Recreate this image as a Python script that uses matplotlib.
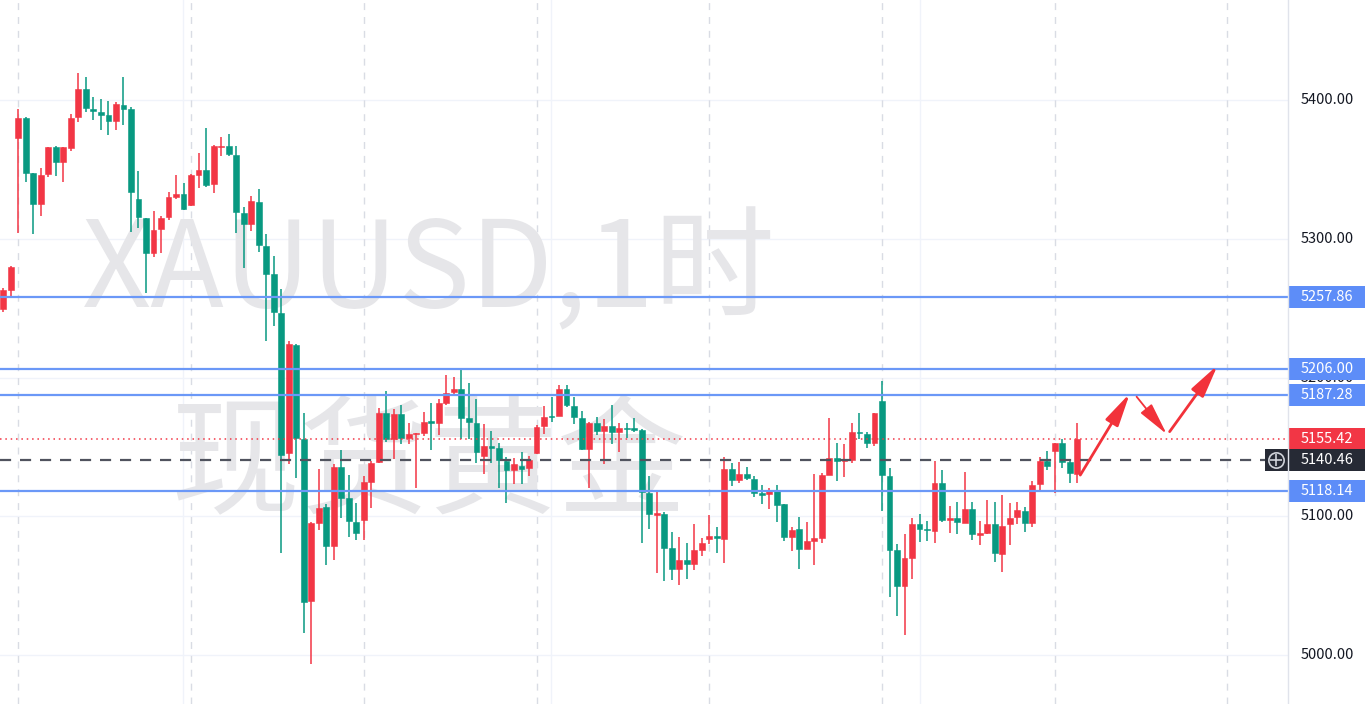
import numpy as np
import matplotlib
matplotlib.use("Agg")
import matplotlib.pyplot as plt
from matplotlib.patches import Rectangle, FancyArrowPatch
from matplotlib.lines import Line2D
from matplotlib.transforms import blended_transform_factory

plt.rcParams['font.family'] = ['Noto Sans CJK SC', 'DejaVu Sans']

# XAUUSD 1h candles
opens = [5249.4, 5263.1, 5372.8, 5386.8, 5347.2, 5324.8, 5346.4, 5365.9, 5355.5, 5365.7,
         5387.5, 5407.9, 5393.5, 5391.6, 5389.2, 5385.2, 5396.4, 5393.5, 5328.4, 5314.7,
         5290.0, 5306.9, 5315.5, 5330.4, 5332.4, 5324.7, 5345.7, 5349.5, 5339.5, 5366.2,
         5367.1, 5360.6, 5318.6, 5310.4, 5326.5, 5295.0, 5274.4, 5246.8, 5145.7, 5223.4,
         5155.7, 5039.1, 5094.9, 5106.9, 5078.8, 5135.3, 5113.4, 5096.1, 5097.3, 5124.9,
         5139.4, 5174.2, 5155.7, 5173.7, 5156.7, 5159.3, 5160.3, 5168.6, 5167.5, 5181.8,
         5189.4, 5191.6, 5170.7, 5167.1, 5143.7, 5150.6, 5149.0, 5140.0, 5133.3, 5136.5,
         5135.1, 5145.9, 5165.0, 5172.5, 5172.3, 5191.7, 5179.5, 5171.1, 5148.3, 5167.1,
         5161.4, 5165.0, 5160.6, 5163.9, 5163.4, 5162.2, 5117.0, 5100.9, 5101.6, 5076.9,
         5062.0, 5068.5, 5065.6, 5075.7, 5083.5, 5085.8, 5083.5, 5134.1, 5126.1, 5130.3,
         5126.8, 5117.0, 5115.9, 5118.9, 5108.8, 5085.3, 5090.7, 5076.4, 5082.5, 5084.1,
         5129.7, 5141.8, 5140.0, 5140.5, 5160.6, 5159.3, 5152.6, 5183.1, 5129.3, 5075.7,
         5049.7, 5069.7, 5094.2, 5091.1, 5089.7, 5123.7, 5097.3, 5099.0, 5095.4, 5105.1,
         5086.8, 5087.8, 5094.4, 5072.8, 5094.2, 5099.3, 5104.1, 5095.0, 5123.0, 5140.0,
         5147.3, 5152.6, 5138.9, 5130.3]
highs = [5264.7, 5280.6, 5393.3, 5388.0, 5347.4, 5351.2, 5365.9, 5366.8, 5365.9, 5389.7,
         5419.2, 5416.8, 5402.4, 5400.7, 5399.5, 5398.3, 5416.8, 5394.7, 5348.8, 5314.7,
         5320.0, 5316.6, 5333.5, 5345.9, 5340.1, 5346.5, 5361.9, 5379.9, 5367.5, 5373.5,
         5375.3, 5367.1, 5322.8, 5330.5, 5335.6, 5303.2, 5287.3, 5264.1, 5226.0, 5224.0,
         5174.5, 5095.6, 5133.8, 5108.8, 5137.5, 5147.7, 5129.7, 5109.8, 5129.3, 5139.8,
         5177.8, 5190.3, 5177.1, 5180.2, 5167.5, 5160.3, 5175.4, 5181.4, 5184.4, 5201.8,
         5200.1, 5205.4, 5195.8, 5184.4, 5166.5, 5161.7, 5152.6, 5142.9, 5142.3, 5146.1,
         5143.4, 5165.8, 5179.5, 5186.2, 5194.6, 5194.6, 5186.2, 5176.1, 5168.2, 5171.8,
         5169.9, 5180.2, 5167.1, 5167.5, 5170.6, 5162.9, 5129.0, 5118.9, 5103.3, 5088.4,
         5084.8, 5080.5, 5094.2, 5084.1, 5100.9, 5092.5, 5142.9, 5138.2, 5139.4, 5135.8,
         5129.3, 5122.5, 5120.1, 5122.5, 5108.8, 5092.5, 5099.3, 5096.1, 5130.5, 5131.4,
         5170.6, 5152.6, 5152.1, 5167.1, 5174.2, 5161.0, 5174.2, 5197.5, 5134.6, 5079.8,
         5087.0, 5098.6, 5101.4, 5096.6, 5139.8, 5133.3, 5107.4, 5110.1, 5131.7, 5110.5,
         5096.6, 5111.7, 5110.5, 5115.3, 5109.4, 5110.1, 5106.5, 5125.7, 5142.9, 5147.0,
         5152.6, 5155.5, 5140.5, 5167.1]
lows = [5247.2, 5257.1, 5303.9, 5340.7, 5303.2, 5316.6, 5344.3, 5345.5, 5340.7, 5363.5,
        5384.4, 5391.1, 5385.6, 5378.4, 5374.8, 5378.4, 5382.0, 5305.2, 5308.0, 5260.7,
        5286.6, 5289.6, 5313.5, 5328.5, 5320.5, 5323.9, 5336.7, 5337.5, 5332.9, 5359.4,
        5359.4, 5304.5, 5279.0, 5305.9, 5290.4, 5226.0, 5237.0, 5073.6, 5137.9, 5127.6,
        5015.6, 4993.6, 5090.1, 5064.9, 5068.5, 5099.0, 5085.3, 5082.9, 5082.9, 5105.7,
        5138.4, 5153.8, 5141.1, 5151.9, 5151.9, 5120.6, 5158.1, 5147.7, 5158.6, 5180.2,
        5186.7, 5155.7, 5155.7, 5138.2, 5130.3, 5138.2, 5120.2, 5109.3, 5123.0, 5123.3,
        5129.0, 5144.9, 5159.1, 5167.8, 5172.0, 5178.6, 5166.3, 5148.0, 5120.6, 5158.6,
        5137.5, 5152.1, 5146.2, 5156.7, 5160.6, 5081.0, 5090.7, 5058.9, 5053.6, 5054.1,
        5050.5, 5054.8, 5061.3, 5071.6, 5080.0, 5073.8, 5066.1, 5121.8, 5124.2, 5126.1,
        5114.2, 5108.8, 5105.0, 5095.6, 5082.5, 5075.2, 5062.0, 5076.2, 5064.9, 5081.0,
        5129.5, 5125.7, 5128.6, 5138.2, 5155.7, 5149.0, 5150.6, 5104.0, 5042.1, 5028.1,
        5014.4, 5054.8, 5081.3, 5082.5, 5080.6, 5096.1, 5087.8, 5087.2, 5095.0, 5082.9,
        5079.3, 5087.5, 5066.9, 5060.1, 5079.3, 5094.2, 5088.5, 5092.1, 5118.2, 5133.3,
        5117.0, 5135.1, 5124.2, 5124.2]
closes = [5263.1, 5279.9, 5386.8, 5347.2, 5324.8, 5345.9, 5365.9, 5355.5, 5365.9, 5386.8,
          5407.9, 5394.0, 5392.1, 5389.2, 5385.2, 5396.9, 5393.5, 5333.5, 5315.9, 5290.0,
          5306.3, 5315.2, 5330.1, 5332.1, 5321.6, 5345.7, 5349.5, 5338.7, 5367.1, 5367.1,
          5361.4, 5319.0, 5310.4, 5327.2, 5295.5, 5274.9, 5247.4, 5144.4, 5224.2, 5156.5,
          5038.0, 5095.4, 5106.2, 5078.8, 5135.3, 5112.9, 5096.6, 5087.7, 5124.5, 5138.2,
          5174.2, 5155.7, 5173.7, 5156.2, 5159.3, 5160.3, 5167.8, 5167.5, 5181.8, 5189.0,
          5191.6, 5171.0, 5167.8, 5146.6, 5150.6, 5149.5, 5140.5, 5133.3, 5137.5, 5134.1,
          5140.5, 5164.5, 5171.8, 5171.8, 5191.7, 5180.2, 5171.4, 5148.3, 5167.1, 5161.7,
          5165.0, 5161.0, 5163.9, 5162.9, 5162.2, 5117.7, 5101.6, 5102.2, 5077.3, 5062.0,
          5068.5, 5065.6, 5075.7, 5080.5, 5085.8, 5084.2, 5134.1, 5126.1, 5130.5, 5127.4,
          5117.0, 5115.3, 5118.9, 5108.1, 5085.3, 5090.1, 5076.4, 5082.2, 5084.1, 5129.7,
          5141.8, 5140.0, 5140.5, 5160.6, 5159.9, 5153.1, 5174.2, 5129.7, 5075.7, 5049.7,
          5069.7, 5094.2, 5090.8, 5090.1, 5123.7, 5097.3, 5098.6, 5096.1, 5105.1, 5087.0,
          5087.5, 5094.2, 5073.8, 5093.3, 5099.0, 5104.5, 5095.4, 5122.5, 5140.0, 5136.5,
          5152.6, 5139.4, 5131.0, 5155.42]

level_lines = [5257.86, 5206.00, 5187.28, 5118.14]
last_price = 5155.42
cursor_price = 5140.46
price_ticks = [5000, 5100, 5200, 5300, 5400]

# hand-drawn forecast arrows: (x0, p0, x1, p1, width) in candle index / price
arrows = [(143.4, 5129.7, 150.0, 5188.6, 2.0),
          (150.9, 5186.2, 154.9, 5159.3, 1.3),
          (155.3, 5161.0, 161.7, 5209.0, 2.0)]

UP = '#F23645'
DOWN = '#089981'
BLUE = '#6B98F7'
W, H = 1368, 704
AX_R = 1288

fig = plt.figure(figsize=(W / 100, H / 100), dpi=100)
ax = fig.add_axes([0, 0, AX_R / W, 1])
ax.set_xlim(-0.44, 171.06)
ax.set_ylim(4964.7, 5472.1)
for s in ax.spines.values():
    s.set_visible(False)
ax.tick_params(left=False, bottom=False, labelleft=False, labelbottom=False)

# grid
for p in price_ticks:
    ax.axhline(p, color='#F0F3FA', lw=1, zorder=0)
for xv in [23.9, 72.9, 122.0]:
    ax.axvline(xv, color='#F0F3FA', lw=1, zorder=0)
for xv in np.arange(2, 172, 23):
    ax.axvline(xv, color='#D9DCE4', lw=1, ls=(0, (5, 5)), zorder=0)

# watermark
ax.text(0.333, 0.612, 'XAUUSD,1时', transform=ax.transAxes, fontsize=87,
        color='#E6E6E9', ha='center', va='center', zorder=0.5)
ax.text(0.333, 0.335, '现货黄金', transform=ax.transAxes, fontsize=93,
        color='#E6E6E9', ha='center', va='center', zorder=0.5)

# candles
o = np.array(opens); h = np.array(highs); l = np.array(lows); c = np.array(closes)
x = np.arange(len(o))
cols = np.where(c >= o, UP, DOWN)
ax.vlines(x, l, h, colors=cols, lw=1.1, zorder=3)
body = np.maximum(np.abs(c - o), 0.8)
ax.bar(x, body, bottom=np.minimum(o, c), width=0.78, color=cols, edgecolor=cols,
       lw=0.4, zorder=3)

# horizontal levels
for p in level_lines:
    ax.axhline(p, color=BLUE, lw=1.6, zorder=4)
ax.axhline(last_price, color=UP, lw=1.1, ls=(0, (1, 2.5)), zorder=4)
ax.plot([-0.44, (1265 - 3.3) / 7.51], [cursor_price] * 2, color='#50535E', lw=1.6,
        ls=(0, (5, 4)), zorder=4)

# arrows
for x0, p0, x1, p1, lw in arrows:
    ax.add_patch(FancyArrowPatch((x0, p0), (x1, p1),
                                 arrowstyle='-|>,head_length=1.0,head_width=0.22',
                                 mutation_scale=20, color='#F2323A', lw=lw,
                                 shrinkA=0, shrinkB=0, zorder=5))

# price scale
fig.add_artist(Line2D([AX_R / W] * 2, [0, 1], color='#E0E3EB', lw=1))
tr = blended_transform_factory(fig.transFigure, ax.transData)
pp = (ax.get_ylim()[1] - ax.get_ylim()[0]) / H   # price per pixel
for p in price_ticks:
    ax.text(1327 / W, p, f'{p:.2f}', transform=tr, ha='center', va='center',
            fontsize=10.5, color='#131722', clip_on=False, zorder=6)


def tag(p, txt, bg, x0=1289, x1=1365):
    ax.add_patch(Rectangle((x0 / W, p - 11 * pp), (x1 - x0) / W, 22 * pp, transform=tr,
                           facecolor=bg, edgecolor='none', clip_on=False, zorder=7))
    ax.text(1327 / W, p, txt, transform=tr, ha='center', va='center', fontsize=10.5,
            color='white', clip_on=False, zorder=8)


for p in level_lines:
    tag(p, f'{p:.2f}', '#5D8DF8')
tag(last_price, f'{last_price:.2f}', UP)
tag(cursor_price, f'{cursor_price:.2f}', '#262A35', x0=1265)
ax.plot([1276 / W], [cursor_price], transform=tr, marker='o', ms=11, mfc='none',
        mec='#D0D3DA', mew=1.2, clip_on=False, zorder=9)
ax.plot([1276 / W], [cursor_price], transform=tr, marker='+', ms=9, mec='#D0D3DA',
        mew=1.2, clip_on=False, zorder=9)

fig.savefig('out.png', dpi=100, facecolor='white')
